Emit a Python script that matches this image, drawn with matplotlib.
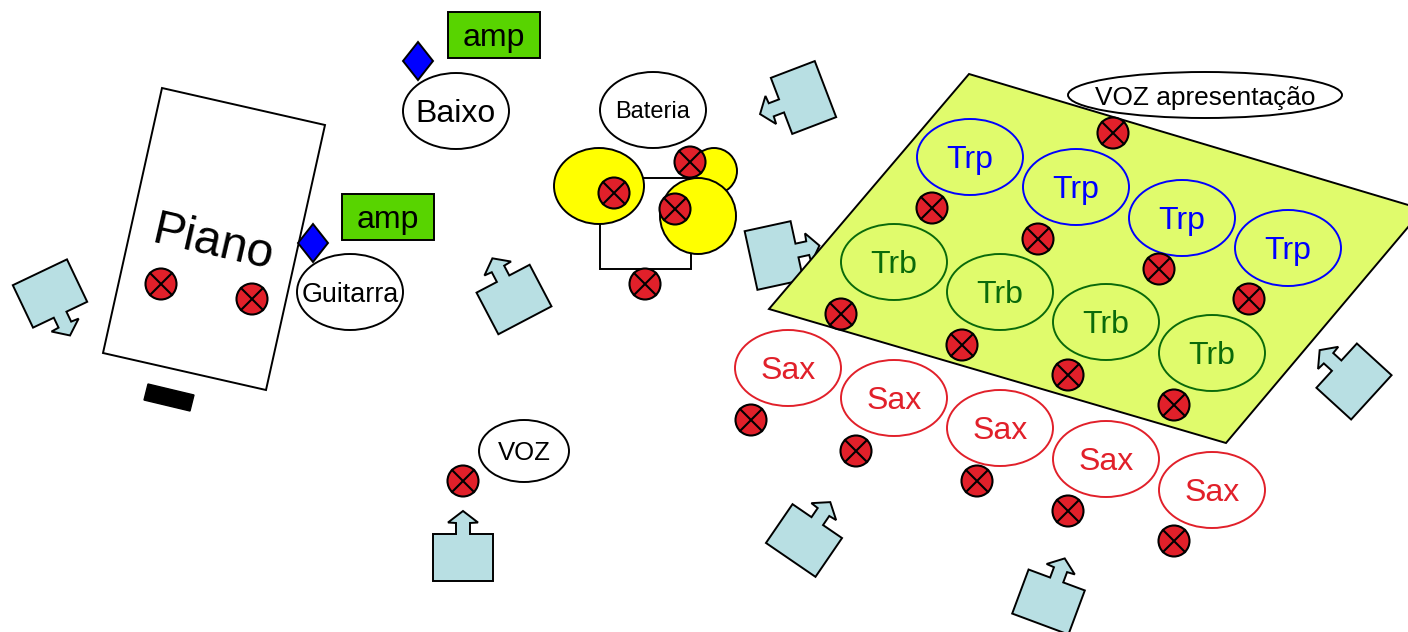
import numpy as np
import matplotlib
matplotlib.use('Agg')
import matplotlib.pyplot as plt
from matplotlib.patches import Ellipse, Polygon, Rectangle

plt.rcParams['font.family'] = ['Liberation Sans', 'DejaVu Sans']

RED = '#e1202a'
BLUE = '#0000ff'
GREEN = '#0a6a0a'
AMP = '#58d400'
MONITOR = '#b8dfe3'
STAGE = '#e0fb6c'
LW = 1.4

# everything in pixels
piano_outline = [(162, 88), (325, 125), (266, 390), (103, 353)]
piano_bar = [(148, 384), (194, 395), (190, 411), (144, 400)]
# right corner sticks out past the edge of the picture
stage_outline = [(969, 74), (1423, 209.4), (1226, 443), (769, 309)]

monitor_x = [50, 514, 803.5, 774, 463, 804, 1048.5, 1354]
monitor_y = [293.5, 299.5, 97.5, 255.5, 557.5, 540.5, 602, 381.5]
monitor_angle = [154.5, -27.7, -110.9, 77.7, 0, 34.4, 20.4, -47.6]

trp_x = [970, 1076, 1182, 1288]
trp_y = [157, 187, 218, 248]
trb_x = [894, 1000, 1106, 1212]
trb_y = [262, 292, 322, 353]
sax_x = [788, 894, 1000, 1106, 1212]
sax_y = [368, 398, 428, 459, 490]

mic_x = [161, 252, 463, 1113, 690, 614, 675, 645,
         932, 1038, 1159, 1249, 841, 962, 1068, 1174,
         751, 856, 977, 1068, 1174]
mic_y = [284, 299, 481, 133, 162, 193, 209, 284,
         208, 239, 269, 299, 314, 345, 375, 405,
         420, 451, 481, 511, 541]

amp_boxes = [(448, 12), (342, 194)]
diamonds = [(418, 61), (313, 243)]

# x, y, rx, ry, label, font size
singers = [(456, 111, 53, 38, 'Baixo', 23),
           (350, 292, 53, 38, 'Guitarra', 19.4),
           (653, 110, 53, 38, 'Bateria', 17),
           (524, 451, 45, 31, 'VOZ', 18.5),
           (1205, 95, 137, 23, 'VOZ apresentação', 18.9)]


def monitor_shape(cx, cy, angle):
    # box with arrow on top, pointing up before it gets turned
    pts = np.array([(-30, 23.5), (-30, -23.5), (-7, -23.5), (-7, -34.5), (-15, -35),
                    (0, -46.5), (15, -35), (7, -34.5), (7, -23.5),
                    (30, -23.5), (30, 23.5)])
    a = np.radians(angle)
    rot = np.array([[np.cos(a), -np.sin(a)], [np.sin(a), np.cos(a)]])
    return pts.dot(rot.T) + (cx, cy)


def draw_mic(ax, x, y, r=15.5):
    ax.add_patch(Ellipse((x, y), 2*r, 2*r, fc=RED, ec='k', lw=1.5, zorder=6))
    d = r*0.707
    ax.plot([x-d, x+d], [y-d, y+d], color='k', lw=1.5, zorder=7)
    ax.plot([x-d, x+d], [y+d, y-d], color='k', lw=1.5, zorder=7)


def draw_players(ax, xs, ys, label, color):
    for x, y in zip(xs, ys):
        ax.add_patch(Ellipse((x, y), 106, 76, fc='none', ec=color, lw=LW, zorder=4))
        ax.text(x, y+3, label, color=color, fontsize=23, ha='center', va='center', zorder=5)


fig = plt.figure(figsize=(14.08, 6.32), dpi=100)
ax = fig.add_axes([0, 0, 1, 1])
ax.set_xlim(0, 1408)
ax.set_ylim(632, 0)
ax.axis('off')

for x, y, ang in zip(monitor_x, monitor_y, monitor_angle):
    ax.add_patch(Polygon(monitor_shape(x, y, ang), closed=True, fc=MONITOR, ec='k', lw=LW, zorder=1))

ax.add_patch(Polygon(stage_outline, closed=True, fc=STAGE, ec='k', lw=LW, zorder=2))

ax.add_patch(Polygon(piano_outline, closed=True, fc='white', ec='k', lw=LW, zorder=2))
ax.add_patch(Polygon(piano_bar, closed=True, fc='k', ec='k', lw=1, zorder=2))
ax.text(213, 244, 'Piano', fontsize=34.5, rotation=-13, rotation_mode='anchor',
        ha='center', va='center', zorder=5)

# drums
ax.add_patch(Rectangle((600, 178), 91, 91, fc='none', ec='k', lw=LW, zorder=2))
ax.add_patch(Ellipse((714, 171), 46, 46, fc='yellow', ec='k', lw=LW, zorder=3))
ax.add_patch(Ellipse((599, 186), 90, 76, fc='yellow', ec='k', lw=LW, zorder=3))
ax.add_patch(Ellipse((698, 216), 76, 76, fc='yellow', ec='k', lw=LW, zorder=3))

for (x, y) in amp_boxes:
    ax.add_patch(Rectangle((x, y), 92, 46, fc=AMP, ec='k', lw=LW, zorder=2))
    ax.text(x+46, y+26, 'amp', fontsize=23, ha='center', va='center', zorder=5)

for (x, y) in diamonds:
    ax.add_patch(Polygon([(x, y-19), (x+15, y), (x, y+19), (x-15, y)], closed=True,
                         fc=BLUE, ec='k', lw=LW, zorder=3))

for x, y, rx, ry, label, fs in singers:
    ax.add_patch(Ellipse((x, y), 2*rx, 2*ry, fc='white', ec='k', lw=LW, zorder=3))
    ax.text(x, y+2.5, label, fontsize=fs, ha='center', va='center', zorder=5)

draw_players(ax, trp_x, trp_y, 'Trp', BLUE)
draw_players(ax, trb_x, trb_y, 'Trb', GREEN)
draw_players(ax, sax_x, sax_y, 'Sax', RED)

for x, y in zip(mic_x, mic_y):
    draw_mic(ax, x, y)

fig.savefig('out.png', dpi=100)
